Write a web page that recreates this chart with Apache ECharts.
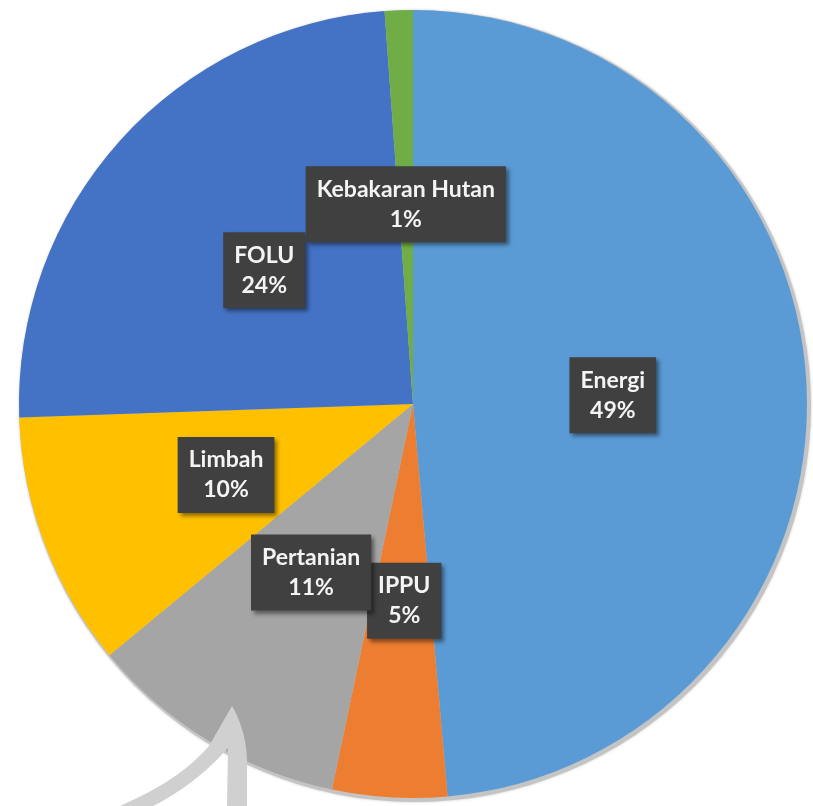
<!DOCTYPE html>
<html>
<head>
<meta charset="utf-8">
<script src="https://cdn.jsdelivr.net/npm/echarts@6/dist/echarts.min.js"></script>
<style>
  html, body { margin: 0; padding: 0; background: #fff; }
  #chart { width: 813px; height: 806px; }
</style>
</head>
<body>
<div id="chart"></div>
<script>
// sektor emisi, searah jarum jam dari atas
var sectors = ['Energi', 'IPPU', 'Pertanian', 'Limbah', 'FOLU', 'Kebakaran Hutan'];
var shares = [48.6, 4.7, 10.7, 10.45, 24.4, 1.15];
var colors = ['#5B9BD5', '#ED7D31', '#A5A5A5', '#FFC000', '#4472C4', '#70AD47'];

var CX = 413, CY = 404, R = 394;
// label yang diletakkan manual (irisan sempit / tumpang tindih)
var movedLabels = ['IPPU', 'Pertanian'];

// kurva kuadrat untuk panah dekorasi
function quad(p0, c, p1, n) {
    var pts = [];
    for (var i = 0; i <= n; i++) {
        var t = i / n, u = 1 - t;
        pts.push([u * u * p0[0] + 2 * u * t * c[0] + t * t * p1[0],
                  u * u * p0[1] + 2 * u * t * c[1] + t * t * p1[1]]);
    }
    return pts;
}

// titik tengah irisan pada setengah jari-jari (seperti label 'inside')
function midPoint(idx) {
    var total = shares.reduce(function (a, b) { return a + b; }, 0);
    var before = 0;
    for (var i = 0; i < idx; i++) before += shares[i];
    var a = (before + shares[idx] / 2) / total * Math.PI * 2;
    return [CX + R / 2 * Math.sin(a), CY - R / 2 * Math.cos(a)];
}

window.onload = function () {
    var pieData = sectors.map(function (name, i) {
        var d = { name: name, value: shares[i], itemStyle: { color: colors[i] } };
        if (movedLabels.indexOf(name) >= 0) d.label = { position: 'outside' };
        return d;
    });

    var arrow = []
        .concat(quad([120, 806], [180, 780], [209, 746], 12))
        .concat([[232, 706]])
        .concat(quad([232, 706], [246, 730], [247, 760], 10))
        .concat([[247, 806], [227, 806], [228, 748]])
        .concat(quad([228, 748], [195, 785], [153, 806], 12));

    var option = {
        animation: false,
        series: [{
            // bayangan abu-abu di belakang lingkaran
            type: 'pie',
            silent: true,
            center: [CX + 2, CY + 2],
            radius: R + 2,
            label: { show: false },
            labelLine: { show: false },
            itemStyle: { color: '#c4c4c4', shadowBlur: 3, shadowColor: 'rgba(0,0,0,0.2)' },
            data: [{ name: 'bg', value: 1 }],
            z: 1
        }, {
            type: 'pie',
            center: [CX, CY],
            radius: R,
            startAngle: 90,
            clockwise: true,
            avoidLabelOverlap: false,
            minShowLabelAngle: 0,
            itemStyle: { borderWidth: 0 },
            label: {
                show: true,
                position: 'inside',
                formatter: function (p) {
                    return p.name + '\n' + Math.round(p.percent) + '%';
                },
                color: '#f4f4f4',
                fontFamily: 'Lato',
                fontWeight: 'bold',
                fontSize: 23,
                lineHeight: 30,
                align: 'center',
                backgroundColor: '#404040',
                padding: [8, 11],
                shadowColor: 'rgba(0,0,0,0.45)',
                shadowBlur: 4,
                shadowOffsetX: 3,
                shadowOffsetY: 3
            },
            labelLine: { show: false },
            labelLayout: function (p) {
                var name = sectors[p.dataIndex];
                if (movedLabels.indexOf(name) < 0) return;
                var pt = midPoint(p.dataIndex);
                if (name === 'IPPU') pt[0] += 3;
                return { x: pt[0], y: pt[1], align: 'center', verticalAlign: 'middle' };
            },
            data: pieData,
            z: 2
        }],
        graphic: [{
            type: 'polygon',
            z: 100,
            shape: { points: arrow },
            style: { fill: '#d0d0d0' }
        }]
    };

    var chart = echarts.init(document.getElementById('chart'));
    chart.setOption(option);
};
</script>
</body>
</html>
